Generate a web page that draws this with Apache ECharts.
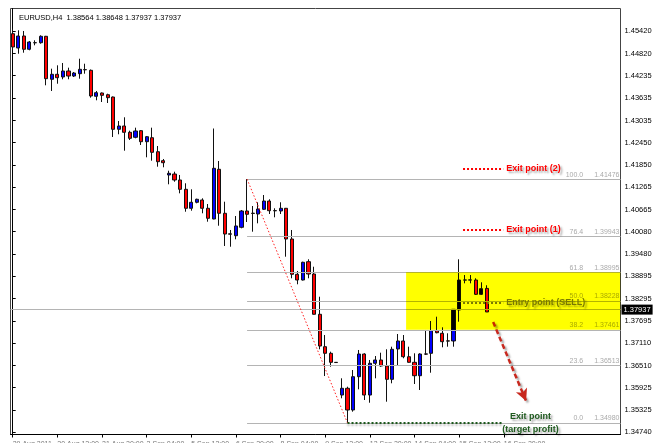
<!DOCTYPE html>
<html><head><meta charset="utf-8">
<script src="https://cdn.jsdelivr.net/npm/echarts@6/dist/echarts.min.js"></script>
<style>html,body{margin:0;padding:0;background:#fff}#c{width:655px;height:443px}</style>
</head><body><div id="c"></div>
<script>
const symbolName = 'EURUSD,H4';
// [open, close, low, high]
const candles = [
 [1.45348,1.44994,1.44906,1.45481],[1.44967,1.45287,1.44815,1.45439],[1.45287,1.44933,1.44842,1.45420],[1.44933,1.45127,1.44906,1.45154],
 [1.45110,1.45105,1.45039,1.45172],[1.45108,1.45279,1.45082,1.45305],[1.45279,1.44150,1.43974,1.45290],[1.44134,1.44267,1.43822,1.44416],
 [1.44267,1.44176,1.44016,1.44506],[1.44195,1.44355,1.44134,1.44568],[1.44355,1.44221,1.44134,1.44443],[1.44221,1.44301,1.44195,1.44328],
 [1.44283,1.44400,1.44150,1.44682],[1.44392,1.44387,1.44283,1.44549],[1.44373,1.43689,1.43644,1.44395],[1.43681,1.43777,1.43574,1.43822],
 [1.43769,1.43707,1.43529,1.43782],[1.43723,1.43644,1.43502,1.43750],[1.43662,1.42802,1.42597,1.43675],[1.42802,1.42890,1.42669,1.43023],
 [1.42890,1.42722,1.42232,1.43122],[1.42722,1.42562,1.42517,1.42765],[1.42589,1.42757,1.42562,1.42845],[1.42765,1.42472,1.42384,1.42783],
 [1.42472,1.42605,1.42056,1.42623],[1.42578,1.42189,1.41966,1.42845],[1.42205,1.41939,1.41806,1.42357],[1.41966,1.41912,1.41790,1.42011],
 [1.41585,1.41630,1.41337,1.41699],[1.41611,1.41452,1.41406,1.41673],[1.41452,1.41204,1.41097,1.41585],[1.41204,1.40698,1.40607,1.41364],
 [1.40698,1.40858,1.40634,1.41204],[1.40858,1.40938,1.40831,1.40954],[1.40919,1.40698,1.40565,1.40964],[1.40698,1.40432,1.40341,1.40812],
 [1.40413,1.41763,1.40405,1.42823],[1.41737,1.40565,1.40234,1.41958],[1.40565,1.40013,1.39694,1.40874],[1.40018,1.40008,1.39675,1.40120],
 [1.39968,1.40227,1.39872,1.40493],[1.40192,1.40626,1.40165,1.40653],[1.40626,1.40538,1.40333,1.41476],[1.40568,1.40560,1.40075,1.40759],
 [1.40546,1.40679,1.40298,1.40858],[1.40671,1.40892,1.40653,1.41052],[1.40892,1.40634,1.40546,1.40938],[1.40637,1.40631,1.40458,1.40698],
 [1.40626,1.40698,1.40546,1.40858],[1.40698,1.39880,1.39409,1.40706],[1.39880,1.38940,1.38834,1.40120],[1.38940,1.38788,1.38674,1.39028],
 [1.38788,1.39260,1.38775,1.39276],[1.39276,1.38948,1.38834,1.39340],[1.38948,1.37875,1.37867,1.39142],[1.37875,1.37030,1.36943,1.38343],
 [1.37012,1.36836,1.36231,1.37323],[1.36836,1.36596,1.36479,1.36879],[1.36596,1.36590,1.36585,1.36600],[1.35725,1.35904,1.35638,1.36170],
 [1.35904,1.35326,1.34980,1.35946],[1.35326,1.36213,1.35281,1.36391],[1.36213,1.36817,1.35877,1.36924],[1.36817,1.35725,1.35592,1.36836],
 [1.35725,1.36570,1.35520,1.36658],[1.36570,1.36658,1.36170,1.36764],[1.36658,1.36498,1.36479,1.36852],[1.36498,1.36143,1.35547,1.36943],
 [1.36143,1.36943,1.36037,1.37012],[1.36951,1.37164,1.36524,1.37350],[1.37164,1.36745,1.36703,1.37323],[1.36745,1.36596,1.36586,1.37012],
 [1.36596,1.36239,1.36018,1.36836],[1.36239,1.36817,1.35859,1.36836],[1.36820,1.36814,1.36791,1.37457],[1.36836,1.37438,1.36319,1.37696],
 [1.37438,1.37385,1.37369,1.37811],[1.37369,1.37145,1.36996,1.37529],[1.37167,1.37161,1.37012,1.37369],[1.37164,1.38008,1.37012,1.38015],
 [1.37989,1.38788,1.37678,1.39340],[1.38790,1.38785,1.38700,1.38921],[1.38785,1.38792,1.38700,1.38921],[1.38788,1.38407,1.38389,1.38834],
 [1.38407,1.38557,1.38389,1.38727],[1.38564,1.37937,1.37937,1.38648]
];
const yTicks = [1.45420,1.44820,1.44235,1.43635,1.43035,1.42450,1.41850,1.41265,1.40665,1.40080,1.39480,1.38895,1.38295,1.37695,1.37110,1.36510,1.35925,1.35325,1.34740];
const xTickIdx = [0,8,16,24,32,40,48,56,64,72,80,88];
const xTickLabels = ['29 Aug 2011','30 Aug 12:00','31 Aug 20:00','2 Sep 04:00','5 Sep 12:00','6 Sep 20:00','8 Sep 04:00','9 Sep 12:00','12 Sep 20:00','14 Sep 04:00','15 Sep 12:00','16 Sep 20:00'];
const fibPct = ['100.0','76.4','61.8','50.0','38.2','23.6','0.0'];
const fibPrice = [1.41476,1.39943,1.38995,1.38228,1.37461,1.36513,1.34980];
const fibFromIdx = 42, fibToIdx = 60;
const lastPrice = 1.37937;
const zoneFromIdx = 70.5;
const noteTexts = ['Exit point (2)','Exit point (1)','Entry point (SELL)'];
const notePrices = [1.41745,1.40120,1.38184];
const noteFromIdx = 80.7, noteToIdx = 87.9;
const targetText = 'Exit point\n(target profit)';
const targetIdx = 92.8;
const arrowFrom = [86.1,1.37670], arrowTo = [92.0,1.35566];

const xMin = -0.394, xMax = 108.92, yMin = 1.3467342, yMax = 1.4601925;
const FONT = 'Liberation Sans';
const last = candles[candles.length-1];
const header = symbolName + '  ' + [last[0], last[3], last[2], last[1]].map(v=>v.toFixed(5)).join(' ');

const shadowTxt = {textShadowColor:'rgba(0,0,0,0.35)', textShadowBlur:2, textShadowOffsetX:2, textShadowOffsetY:2};
const noteColors = ['#ff0000','#ff0000','#7a7a7a'];

const mlData = [];
mlData.push({yAxis:lastPrice, lineStyle:{color:'#b4b4b4',type:'solid',width:1},
  label:{show:true, position:'end', distance:1, formatter:lastPrice.toFixed(5), backgroundColor:'#000', color:'#fff',
    fontSize:7.5, fontFamily:FONT, padding:[1,2,0,2], lineHeight:9}});
fibPrice.forEach((p,i)=>{
  mlData.push([{coord:[fibFromIdx,p], lineStyle:{color:'#b4b4b4',type:'solid',width:1},
    label:{show:true, position:'insideEndTop', distance:[1,1], formatter:'{p|'+fibPct[i]+'}{v|'+p.toFixed(5)+'}',
      rich:{p:{width:17,align:'right',color:'#aaaaaa',fontSize:7,fontFamily:FONT}, v:{padding:[0,0,0,11],color:'#aaaaaa',fontSize:7,fontFamily:FONT}}}},
    {coord:[xMax,p]}]);
});
mlData.push([{coord:[fibFromIdx,fibPrice[0]], lineStyle:{color:'#ff2020',type:[1.5,2],width:1}, label:{show:false}},
  {coord:[fibToIdx,fibPrice[fibPrice.length-1]]}]);
mlData.push([{coord:[fibToIdx,fibPrice[fibPrice.length-1]], lineStyle:{color:'#1e5a1e',type:'dotted',width:2,
  shadowColor:'rgba(0,0,0,0.3)',shadowBlur:2,shadowOffsetY:2}, label:{show:false}},
  {coord:[noteToIdx,fibPrice[fibPrice.length-1]]}]);
noteTexts.forEach((t,i)=>{
  mlData.push([{coord:[noteFromIdx,notePrices[i]], lineStyle:{color:noteColors[i],type:'dotted',width:2},
    label:Object.assign({show:true, position:'end', distance:3, formatter:t, color:noteColors[i], fontWeight:'bold', fontSize:9, fontFamily:FONT}, shadowTxt)},
    {coord:[noteToIdx,notePrices[i]]}]);
});
mlData.push([{coord:arrowFrom, symbol:'none', lineStyle:{color:'#c8281e',type:[5,3],width:2.5,
    shadowColor:'rgba(0,0,0,0.35)',shadowBlur:2,shadowOffsetX:2,shadowOffsetY:2}, label:{show:false}},
  {coord:arrowTo, symbol:'arrow', symbolSize:[9,12]}]);

const chart = echarts.init(document.getElementById('c'), null, {renderer:'canvas'});
chart.setOption({
  backgroundColor:'#ffffff',
  animation:false,
  title:{text:header, left:14, top:9, textStyle:{fontSize:7.5, fontWeight:'normal', color:'#000', fontFamily:FONT}},
  grid:{left:10.5, top:8.5, width:610, height:426, show:true, borderColor:'#444', borderWidth:1, backgroundColor:'transparent',
    containLabel:false, outerBoundsMode:'none'},
  xAxis:{type:'value', min:xMin, max:xMax, splitLine:{show:false},
    axisLine:{show:true, lineStyle:{color:'#000'}},
    axisTick:{show:true, customValues:xTickIdx, length:3, lineStyle:{color:'#000'}},
    axisLabel:{show:true, customValues:xTickIdx, margin:6, align:'left', fontSize:7, color:'#777', fontFamily:FONT,
      formatter:v=>xTickLabels[xTickIdx.indexOf(Math.round(v))] || ''}},
  yAxis:{type:'value', position:'right', min:yMin, max:yMax, scale:true, splitLine:{show:false},
    axisLine:{show:true, lineStyle:{color:'#000'}},
    axisTick:{show:true, customValues:yTicks, length:3, lineStyle:{color:'#000'}},
    axisLabel:{show:true, customValues:yTicks, margin:4, fontSize:7.5, color:'#000', fontFamily:FONT, formatter:v=>v.toFixed(5)}},
  series:[
    {type:'candlestick', barWidth:3.6, z:2,
      data:candles.map((c,i)=>[i,c[0],c[1],c[2],c[3]]),
      itemStyle:{color:'#0000ff', color0:'#ff0000', borderColor:'#111', borderColor0:'#111', borderWidth:1},
      markLine:{silent:true, symbol:['none','none'], animation:false, data:mlData},
      markPoint:{silent:true, animation:false, symbol:'circle', symbolSize:1, itemStyle:{color:'transparent'},
        data:[{coord:[targetIdx,fibPrice[fibPrice.length-1]], label:Object.assign({show:true, position:'inside', formatter:targetText,
          color:'#1e5a1e', fontWeight:'bold', fontSize:9, lineHeight:12.5, align:'center', fontFamily:FONT}, shadowTxt)}]}
    },
    {type:'custom', z:20, silent:true, clip:true, blendMode:'multiply',
      data:[[zoneFromIdx, xMax, fibPrice[2], fibPrice[4]]],
      encode:{x:[0,1], y:[2,3]},
      renderItem:function(params, api){
        const a = api.coord([api.value(0), api.value(2)]);
        const b = api.coord([api.value(1), api.value(3)]);
        return {type:'rect', shape:{x:a[0], y:a[1], width:b[0]-a[0], height:b[1]-a[1]},
          style:{fill:'#ffff00'}};
      }}
  ]
});
</script></body></html>
